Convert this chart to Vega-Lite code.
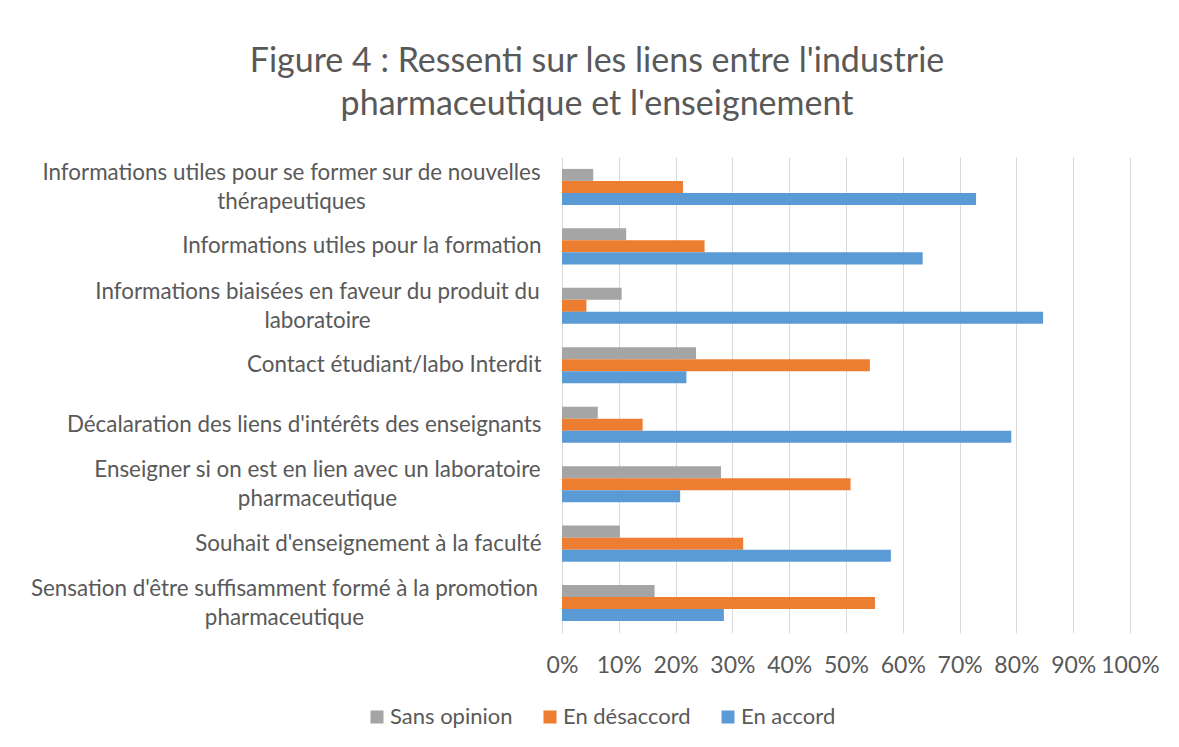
{
  "$schema": "https://vega.github.io/schema/vega-lite/v6.json",
  "width": 568,
  "height": 476,
  "autosize": {"type": "none"},
  "padding": {"left": 562, "top": 157, "right": 49, "bottom": 114},
  "background": "white",
  "config": {"view": {"stroke": null}, "font": "Lato"},
  "title": {
    "text": ["Figure 4 : Ressenti sur les liens entre l'industrie", "pharmaceutique et l'enseignement"],
    "fontSize": 34,
    "font": "Lato",
    "fontWeight": "normal",
    "color": "#595959",
    "lineHeight": 43,
    "anchor": "middle",
    "frame": "group",
    "dx": -249,
    "offset": 35
  },
  "data": {
    "values": [
      {"category": "Informations utiles pour se former sur de nouvelles thérapeutiques", "series": "Sans opinion", "value": 0.055},
      {"category": "Informations utiles pour se former sur de nouvelles thérapeutiques", "series": "En désaccord", "value": 0.213},
      {"category": "Informations utiles pour se former sur de nouvelles thérapeutiques", "series": "En accord", "value": 0.729},
      {"category": "Informations utiles pour la formation", "series": "Sans opinion", "value": 0.113},
      {"category": "Informations utiles pour la formation", "series": "En désaccord", "value": 0.251},
      {"category": "Informations utiles pour la formation", "series": "En accord", "value": 0.635},
      {"category": "Informations biaisées en faveur du produit du laboratoire", "series": "Sans opinion", "value": 0.105},
      {"category": "Informations biaisées en faveur du produit du laboratoire", "series": "En désaccord", "value": 0.043},
      {"category": "Informations biaisées en faveur du produit du laboratoire", "series": "En accord", "value": 0.847},
      {"category": "Contact étudiant/labo Interdit", "series": "Sans opinion", "value": 0.236},
      {"category": "Contact étudiant/labo Interdit", "series": "En désaccord", "value": 0.542},
      {"category": "Contact étudiant/labo Interdit", "series": "En accord", "value": 0.219},
      {"category": "Décalaration des liens d'intérêts des enseignants", "series": "Sans opinion", "value": 0.063},
      {"category": "Décalaration des liens d'intérêts des enseignants", "series": "En désaccord", "value": 0.142},
      {"category": "Décalaration des liens d'intérêts des enseignants", "series": "En accord", "value": 0.791},
      {"category": "Enseigner si on est en lien avec un laboratoire pharmaceutique", "series": "Sans opinion", "value": 0.28},
      {"category": "Enseigner si on est en lien avec un laboratoire pharmaceutique", "series": "En désaccord", "value": 0.508},
      {"category": "Enseigner si on est en lien avec un laboratoire pharmaceutique", "series": "En accord", "value": 0.208},
      {"category": "Souhait d'enseignement à la faculté", "series": "Sans opinion", "value": 0.102},
      {"category": "Souhait d'enseignement à la faculté", "series": "En désaccord", "value": 0.319},
      {"category": "Souhait d'enseignement à la faculté", "series": "En accord", "value": 0.579},
      {"category": "Sensation d'être suffisamment formé à la promotion pharmaceutique", "series": "Sans opinion", "value": 0.163},
      {"category": "Sensation d'être suffisamment formé à la promotion pharmaceutique", "series": "En désaccord", "value": 0.551},
      {"category": "Sensation d'être suffisamment formé à la promotion pharmaceutique", "series": "En accord", "value": 0.285}
    ]
  },
  "mark": {"type": "bar"},
  "encoding": {
    "y": {
      "field": "category",
      "type": "nominal",
      "sort": [
        "Informations utiles pour se former sur de nouvelles thérapeutiques",
        "Informations utiles pour la formation",
        "Informations biaisées en faveur du produit du laboratoire",
        "Contact étudiant/labo Interdit",
        "Décalaration des liens d'intérêts des enseignants",
        "Enseigner si on est en lien avec un laboratoire pharmaceutique",
        "Souhait d'enseignement à la faculté",
        "Sensation d'être suffisamment formé à la promotion pharmaceutique"
      ],
      "scale": {"paddingInner": 0.394, "paddingOuter": 0.2},
      "axis": {
        "title": null,
        "domain": false,
        "ticks": false,
        "labelFont": "Lato",
        "labelFontSize": 22.4,
        "labelColor": "#595959",
        "labelLimit": 0,
        "labelLineHeight": 29,
        "labelAlign": {
          "condition": {"test": "indexof(['Informations utiles pour se former sur de nouvelles thérapeutiques','Informations biaisées en faveur du produit du laboratoire','Enseigner si on est en lien avec un laboratoire pharmaceutique',\"Sensation d'être suffisamment formé à la promotion pharmaceutique\"], datum.value) >= 0", "value": "center"},
          "value": "right"
        },
        "labelOffset": {
          "condition": {"test": "indexof(['Informations utiles pour se former sur de nouvelles thérapeutiques','Informations biaisées en faveur du produit du laboratoire','Enseigner si on est en lien avec un laboratoire pharmaceutique',\"Sensation d'être suffisamment formé à la promotion pharmaceutique\"], datum.value) >= 0", "value": -14},
          "value": 0
        },
        "labelPadding": {
          "condition": [
            {"test": "datum.value == 'Informations utiles pour se former sur de nouvelles thérapeutiques'", "value": 271},
            {"test": "datum.value == 'Informations biaisées en faveur du produit du laboratoire'", "value": 245},
            {"test": "datum.value == 'Enseigner si on est en lien avec un laboratoire pharmaceutique'", "value": 245},
            {"test": "datum.value == \"Sensation d'être suffisamment formé à la promotion pharmaceutique\"", "value": 278}
          ],
          "value": 21
        },
        "labelExpr": "datum.value == 'Informations utiles pour se former sur de nouvelles thérapeutiques' ? ['Informations utiles pour se former sur de nouvelles', 'thérapeutiques'] : datum.value == 'Informations biaisées en faveur du produit du laboratoire' ? ['Informations biaisées en faveur du produit du', 'laboratoire'] : datum.value == 'Enseigner si on est en lien avec un laboratoire pharmaceutique' ? ['Enseigner si on est en lien avec un laboratoire', 'pharmaceutique'] : datum.value == \"Sensation d'être suffisamment formé à la promotion pharmaceutique\" ? [\"Sensation d'être suffisamment formé à la promotion\", 'pharmaceutique'] : datum.label"
      }
    },
    "yOffset": {
      "field": "series",
      "type": "nominal",
      "sort": ["Sans opinion", "En désaccord", "En accord"]
    },
    "x": {
      "field": "value",
      "type": "quantitative",
      "scale": {"domain": [0, 1]},
      "axis": {
        "title": null,
        "format": "%",
        "values": [0, 0.1, 0.2, 0.3, 0.4, 0.5, 0.6, 0.7, 0.8, 0.9, 1],
        "labelOverlap": false,
        "labelFlush": false,
        "domain": false,
        "ticks": false,
        "grid": true,
        "gridColor": "#D9D9D9",
        "gridWidth": 1,
        "labelFont": "Lato",
        "labelFontSize": 23,
        "labelColor": "#595959",
        "labelPadding": 21
      }
    },
    "color": {
      "field": "series",
      "type": "nominal",
      "scale": {
        "domain": ["Sans opinion", "En désaccord", "En accord"],
        "range": ["#A5A5A5", "#ED7D31", "#5B9BD5"]
      },
      "legend": {
        "title": null,
        "orient": "none",
        "direction": "horizontal",
        "legendX": -196,
        "legendY": 549,
        "symbolType": "square",
        "symbolSize": 169,
        "symbolStrokeWidth": 0,
        "labelFont": "Lato",
        "labelFontSize": 22,
        "labelColor": "#595959",
        "labelOffset": 2,
        "columnPadding": 26
      }
    }
  }
}
